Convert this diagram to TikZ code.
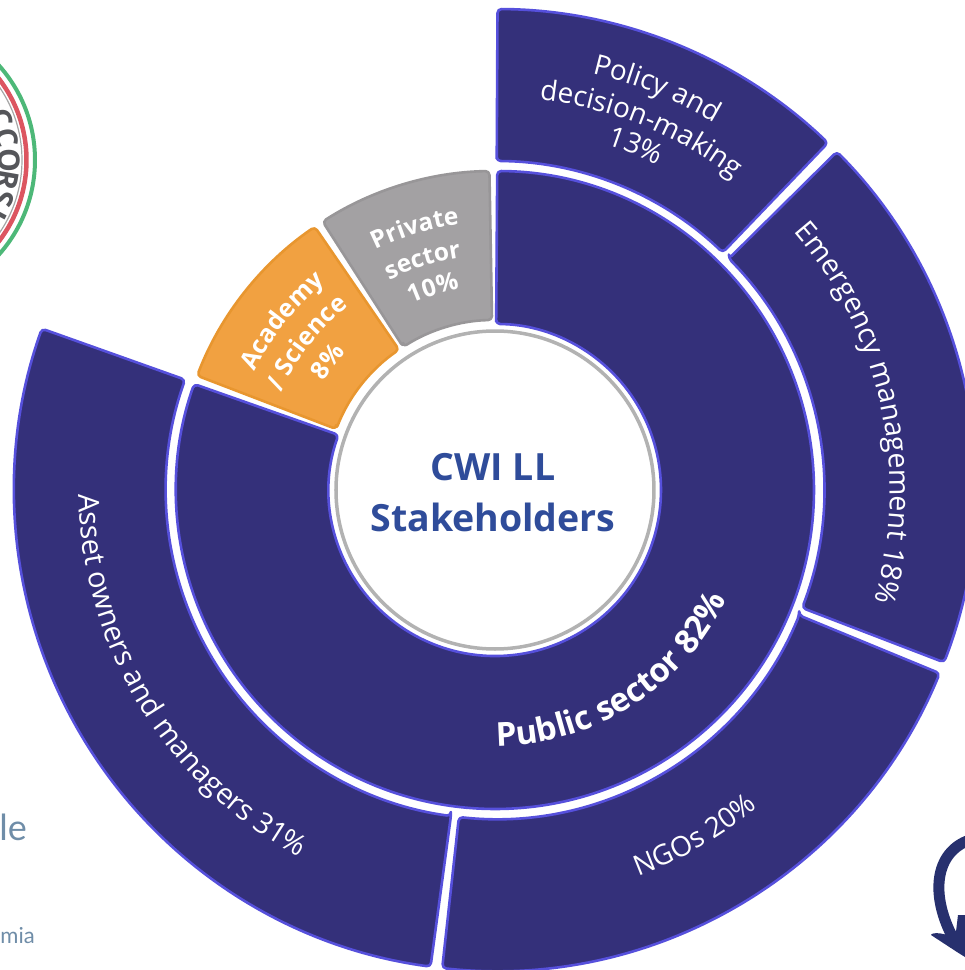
\documentclass[tikz,border=0pt]{standalone}
\usepackage{fontspec}
\setmainfont{Open Sans}
\newfontfamily\lfont{Lato}
\definecolor{navy}{HTML}{34307A}
\definecolor{navyedge}{HTML}{5650DC}
\definecolor{greyfill}{HTML}{A3A1A3}
\definecolor{greyedge}{HTML}{989698}
\definecolor{orangefill}{HTML}{F1A141}
\definecolor{orangeedge}{HTML}{E8962F}
\definecolor{titleblue}{HTML}{2F4C9A}
\definecolor{arrowblue}{HTML}{27306E}
\definecolor{logogreen}{HTML}{4DB878}
\definecolor{logored}{HTML}{DC5560}
\definecolor{logogrey}{HTML}{55565A}
\definecolor{footblue}{HTML}{6F8DA8}
\tikzset{
  seg/.style={line width=2.6pt,line join=round,rounded corners=4pt},
  navyseg/.style={seg,draw=navyedge,fill=navy},
  greyseg/.style={seg,draw=greyedge,fill=greyfill},
  orangeseg/.style={seg,draw=orangeedge,fill=orangefill},
  glyph/.style={anchor=base,inner sep=0pt,outer sep=0pt,text=white},
}
% inner r, outer r, start, end (clockwise from the top), style
\newcommand{\ringseg}[5]{%
  \path[#5] ({90-#3}:#1pt) -- ({90-#3}:#2pt)
    arc[start angle={90-#3},end angle={90-#4},radius=#2pt]
    -- ({90-#4}:#1pt)
    arc[start angle={90-#4},end angle={90-#3},radius=#1pt] -- cycle;}
% clock angle, rotation, radius, font, character
\newcommand{\glyphat}[5]{\node[glyph,rotate=#2,font=#4] at ({90-(#1)}:#3pt) {#5};}
\ExplSyntaxOn
\dim_new:N \l_rk_pos_dim
\dim_new:N \l_rk_total_dim
\box_new:N \l_rk_box
\tl_new:N \l_rk_a_tl
\tl_new:N \l_rk_r_tl
\cs_new:Npn \rk_char:n #1 { \str_if_eq:nnTF {#1} {@} {\%} {#1} }
% radius, centre clock angle, direction (1 clockwise, -1 anticlockwise), font, text (@ = percent)
\NewDocumentCommand \arcline { m m m m m }
 {
  \dim_zero:N \l_rk_total_dim
  \str_map_inline:nn {#5}
   {
    \hbox_set:Nn \l_rk_box { \pgfinterruptpicture #4 \rk_char:n {##1} \endpgfinterruptpicture }
    \dim_add:Nn \l_rk_total_dim { \box_wd:N \l_rk_box }
   }
  \dim_zero:N \l_rk_pos_dim
  \str_map_inline:nn {#5}
   {
    \hbox_set:Nn \l_rk_box { \pgfinterruptpicture #4 \rk_char:n {##1} \endpgfinterruptpicture }
    \str_if_eq:nnF {##1} {~}
     {
      \tl_set:Nx \l_rk_a_tl
       { \fp_eval:n { round( (#2) + (#3) *
          ( \dim_to_fp:n { \l_rk_pos_dim + 0.5 \box_wd:N \l_rk_box - 0.5 \l_rk_total_dim } )
          / (#1) * 180 / pi , 3) } }
      \tl_set:Nx \l_rk_r_tl { \fp_eval:n { round( 90 * (1 - (#3)) - \l_rk_a_tl , 3) } }
      \glyphat { \l_rk_a_tl } { \l_rk_r_tl } {#1} {#4} { \rk_char:n {##1} }
     }
    \dim_add:Nn \l_rk_pos_dim { \box_wd:N \l_rk_box }
   }
 }
\ExplSyntaxOff
\newcommand{\reg}[1]{\fontsize{#1}{#1}\selectfont}
\newcommand{\bld}[1]{\fontsize{#1}{#1}\selectfont\bfseries}
\begin{document}
\begin{tikzpicture}[x=1pt,y=1pt]
\clip (-495,-480) rectangle (470,490);
% outer ring
\ringseg{329}{481}{0.3}{43.8}{navyseg}
\ringseg{329}{481}{45.3}{111}{navyseg}
\ringseg{329}{481}{112.4}{186.3}{navyseg}
\ringseg{329}{481}{187.7}{289.6}{navyseg}
% inner ring
\ringseg{166}{319}{0.4}{289.4}{navyseg}
\ringseg{170}{319}{291}{325.6}{orangeseg}
\ringseg{170}{319}{327.3}{359}{greyseg}
% centre
\node[circle,draw=black!30,line width=3.5pt,fill=white,minimum size=318pt,inner sep=0pt] (centre) at (0,0) {};
\node[align=center,text=titleblue,font=\fontsize{37.5}{51}\selectfont\bfseries] (title) at (-2,-3) {CWI LL\\Stakeholders};
% curved labels
\arcline{428}{22}{1}{\reg{28}}{Policy and}
\arcline{393}{22}{1}{\reg{28}}{decision-making}
\arcline{363}{22.3}{1}{\reg{28}}{13@}
\arcline{395}{77.7}{1}{\reg{28.5}}{Emergency management 18@}
\arcline{412}{150}{-1}{\reg{28}}{NGOs 20@}
\arcline{416}{238.7}{-1}{\reg{29}}{Asset owners and managers 31@}
\arcline{256}{147.5}{-1}{\bld{33}}{Public sector 82@}
\arcline{268}{-17}{1}{\bld{24.5}}{Private}
\arcline{235}{-17.5}{1}{\bld{24.5}}{sector}
\arcline{204}{-17}{1}{\bld{24.5}}{10@}
\arcline{268}{-51.5}{1}{\bld{25}}{Academy}
\arcline{235}{-52}{1}{\bld{25}}{/ Science}
\arcline{203}{-52.5}{1}{\bld{25}}{8@}
% logo fragment
\begin{scope}[shift={(-602pt,330pt)}]
\draw[logogreen,line width=4pt] (0,0) circle[radius=142pt];
\draw[logored,line width=4.5pt] (0,0) circle[radius=133.5pt];
\draw[black!35,line width=1.2pt] (0,0) circle[radius=129pt];
\node[text=logogrey,font=\bld{30},rotate=-69] (l1) at (21:116pt) {C};
\node[text=logogrey,font=\bld{30},rotate=-79] (l2) at (11:116pt) {C};
\node[text=logogrey,font=\bld{30},rotate=-90] (l3) at (0:116pt) {O};
\node[text=logogrey,font=\bld{30},rotate=-100] (l4) at (-10:116pt) {R};
\node[text=logogrey,font=\bld{30},rotate=-110] (l5) at (-19:116pt) {S};
\node[text=logogrey,font=\bld{30},rotate=-118] (l6) at (-27:116pt) {I};
\end{scope}
% footer fragments
\node[anchor=base east,inner sep=0pt,text=footblue,font=\lfont\fontsize{36}{36}\selectfont] (foota) at (-468,-350) {ale};
\node[anchor=base east,inner sep=0pt,text=footblue,font=\lfont\fontsize{22}{22}\selectfont] (footb) at (-460,-453) {mia};
% curved arrow
\draw[arrowblue,line width=11pt] (472,-351) .. controls (438,-365) and (435,-410) .. (462,-455);
\fill[arrowblue] (463,-425) -- (470,-425) -- (470,-467) -- (462,-462) -- (436,-445) .. controls (436,-442) and (452,-442) .. (460,-450) -- cycle;
\end{tikzpicture}
\end{document}
